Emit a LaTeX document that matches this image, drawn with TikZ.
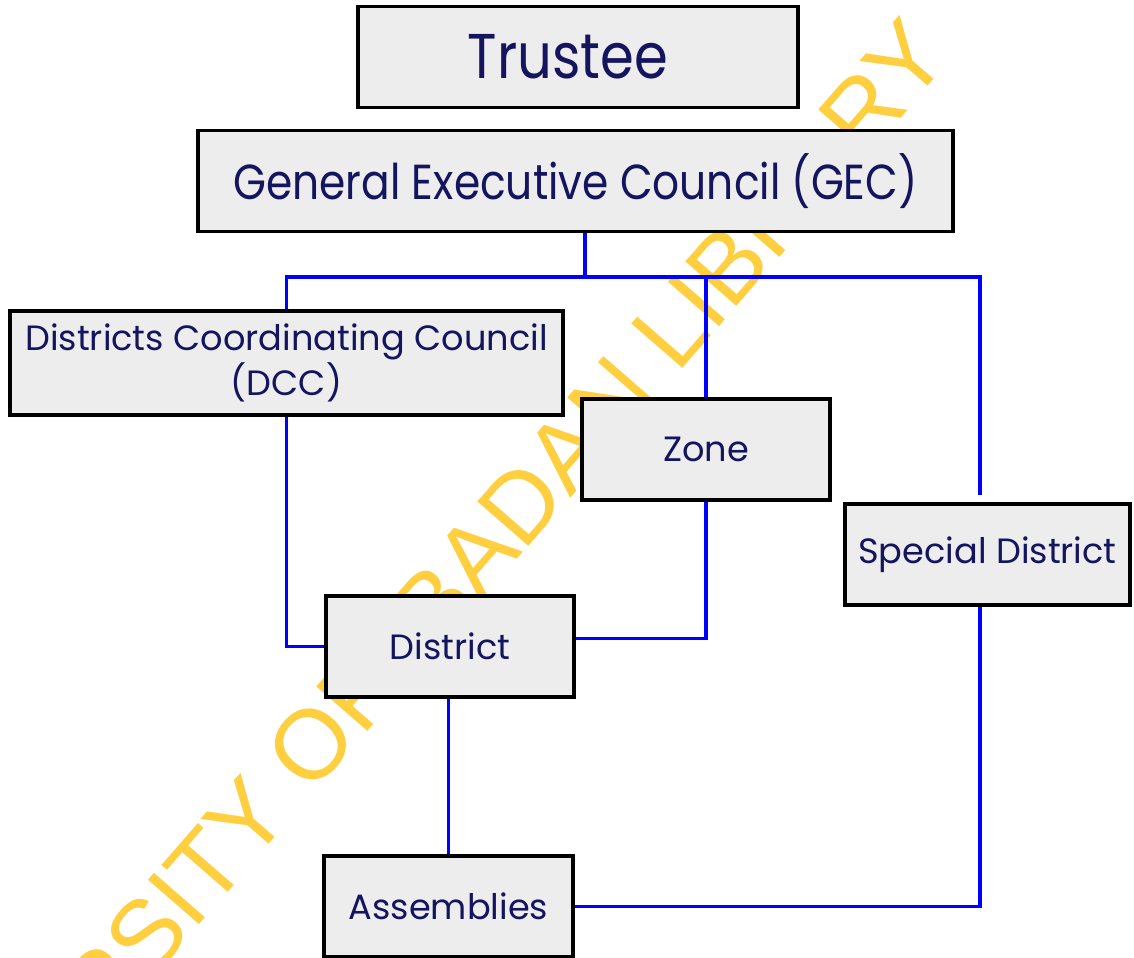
\documentclass[tikz,border=0pt]{standalone}
\usepackage{fontspec}
\setmainfont{Poppins}
\newfontfamily\narrowfont[FakeStretch=0.86]{Poppins}
\newfontfamily\markfont{Liberation Sans}
\usepackage{tikz}
\definecolor{navy}{RGB}{20,20,95}
\definecolor{boxgray}{RGB}{237,237,237}
\definecolor{markyellow}{RGB}{255,207,64}
\tikzstyle{unit}=[draw=black,fill=boxgray,line width=1.1pt,text=navy,inner sep=0pt,minimum height=1.01cm,font=\fontsize{10}{13}\selectfont]
\tikzstyle{link}=[draw=blue,line width=0.9pt]
\tikzset{every picture/.style={
    line width=0.9pt
  }
}

\begin{document}
\begin{tikzpicture}
            \useasboundingbox (0,0) rectangle (11.34,9.57);
            \clip (0,0) rectangle (11.34,9.57);
            % watermark behind everything
            \node[markyellow,rotate=49,anchor=base east,inner sep=0pt,font=\markfont\fontsize{28}{28}\selectfont] (mark) at (9.54,9.00) {UNIVERSITY OF IBADAN LIBRARY};
            \node[unit,minimum width=4.40cm,font=\narrowfont\fontsize{18}{20}\selectfont] (trustee) at (5.78,9.00) {Trustee\hspace*{0.2cm}};
            \node[unit,minimum width=7.55cm,font=\narrowfont\fontsize{14}{16}\selectfont] (gec) at (5.755,7.76) {General Executive Council (GEC)};
            \node[unit,minimum width=5.53cm,minimum height=1.04cm,align=center] (dcc) at (2.865,5.94) {Districts Coordinating Council\\(DCC)};
            \node[unit,minimum width=2.48cm] (zone) at (7.06,5.075) {Zone};
            \node[unit,minimum width=2.85cm] (special) at (9.875,4.025) {Special District};
            \node[unit,minimum width=2.48cm] (district) at (4.50,3.105) {District};
            \node[unit,minimum width=2.49cm] (assemblies) at (4.485,0.505) {Assemblies};
            \coordinate (bus) at (5.85,6.80);
            \coordinate (corner) at (9.80,6.80);
            \coordinate (spend) at (9.80,4.62);
            \draw[link] (gec.south -| bus) -- (bus);
            \draw[link] (dcc.north) |- (corner) -- (spend);
            \draw[link] (zone.north) -- (zone.north |- bus);
            \draw[link] (dcc.south) |- (district.west);
            \draw[link] (zone.south) |- ([yshift=0.08cm]district.east);
            \draw[link] (assemblies.north |- district.south) -- (assemblies.north);
            \draw[link] (special.south -| corner) |- (assemblies.east);
          \end{tikzpicture}
\end{document}
